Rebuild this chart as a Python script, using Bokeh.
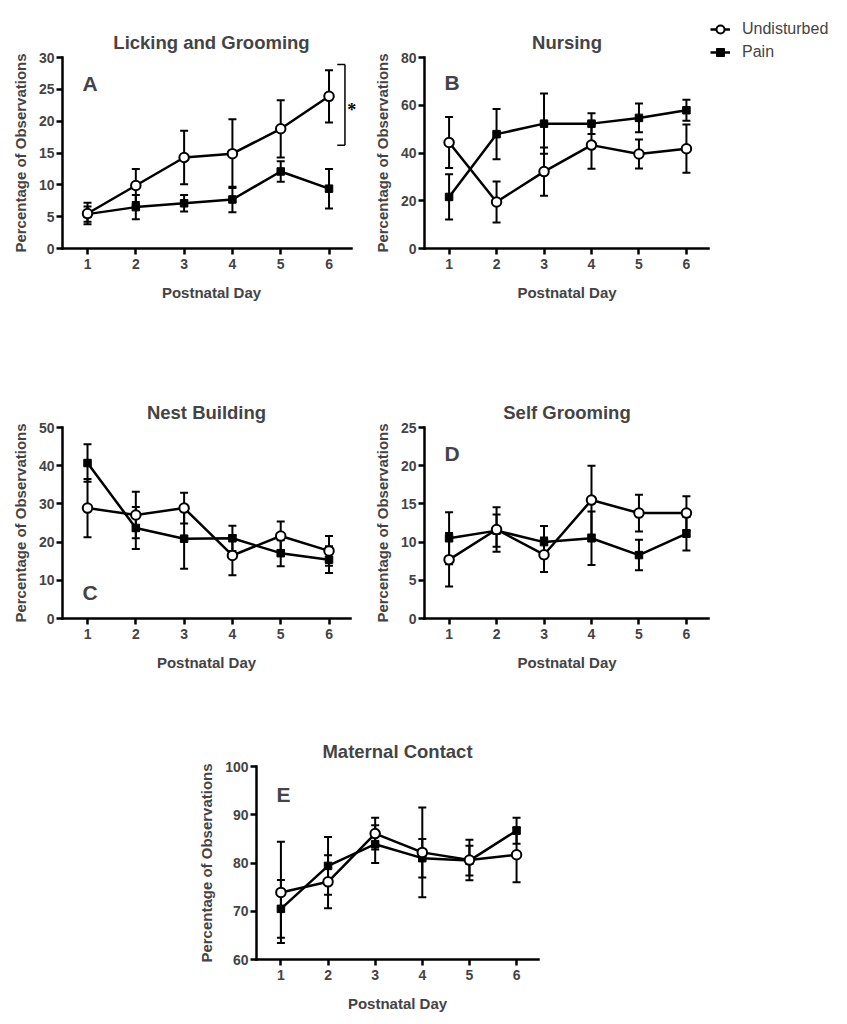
from bokeh.plotting import figure
from bokeh.layouts import column, row, Spacer
from bokeh.models import FixedTicker, Label, Legend, LegendItem, Range1d
from bokeh.embed import file_html
from bokeh.resources import INLINE

# ---------------- data ----------------
days = [1, 2, 3, 4, 5, 6]

lg_und = [5.5, 9.9, 14.3, 14.9, 18.8, 23.9]
lg_und_se = [1.7, 2.6, 4.2, 5.4, 4.5, 4.1]
lg_pain = [5.4, 6.5, 7.1, 7.7, 12.1, 9.4]
lg_pain_se = [1.2, 1.9, 1.3, 2.0, 1.6, 3.1]

nu_und = [44.4, 19.5, 32.2, 43.3, 39.6, 41.8]
nu_und_se = [10.7, 8.6, 10.1, 9.9, 6.1, 10.1]
nu_pain = [21.6, 47.9, 52.3, 52.3, 54.7, 57.9]
nu_pain_se = [9.5, 10.5, 12.6, 4.3, 6.0, 4.4]

nb_und = [28.9, 27.1, 28.9, 16.5, 21.6, 17.7]
nb_und_se = [7.6, 6.1, 4.0, 5.2, 3.8, 3.9]
nb_pain = [40.7, 23.7, 20.9, 21.0, 17.1, 15.4]
nb_pain_se = [4.9, 5.5, 7.9, 3.3, 3.4, 3.5]

sg_und = [7.7, 11.65, 8.35, 15.5, 13.8, 13.8]
sg_und_se = [3.5, 2.9, 2.25, 4.5, 2.4, 2.2]
sg_pain = [10.5, 11.5, 10.0, 10.5, 8.3, 11.1]
sg_pain_se = [3.4, 2.1, 2.1, 3.5, 2.0, 2.2]

mc_und = [73.9, 76.1, 86.1, 82.2, 80.6, 81.7]
mc_und_se = [10.5, 5.5, 3.3, 9.3, 4.2, 5.7]
mc_pain = [70.5, 79.4, 83.9, 81.0, 80.5, 86.7]
mc_pain_se = [6.0, 6.0, 3.9, 4.0, 3.1, 2.7]

series_names = ["Undisturbed", "Pain"]
x_label = "Postnatal Day"
y_label = "Percentage of Observations"

# significance annotation for panel A (data units)
sig_bracket_y = [16.2, 28.9]
sig_bracket_x = 6.33
sig_bracket_tick_x = 6.17
sig_star = (6.47, 21.7)

# ---------------- style ----------------
FONT = "Liberation Sans"
PX_PER_DAY = 48.3
X_START = 0.482
X_AXIS_END = 6.46


def panel(title, und, und_se, pain, pain_se, y0, y1, yticks, letter, letter_y,
          bl, fw, br, bt, fh, bb, title_offset=0):
    x_end = X_START + fw / PX_PER_DAY
    p = figure(width=bl + fw + br, height=bt + fh + bb,
               x_range=Range1d(X_START, x_end), y_range=Range1d(y0, y1),
               toolbar_location=None, output_backend="svg",
               min_border_left=bl, min_border_right=br,
               min_border_top=bt, min_border_bottom=bb)
    p.grid.visible = False
    p.outline_line_color = None
    p.background_fill_color = "white"
    p.border_fill_color = "white"

    p.title.text = title
    p.title.align = "center"
    p.title.vertical_align = "top"
    p.title.text_font = FONT
    p.title.text_font_size = "18.5px"
    p.title.text_font_style = "bold"
    p.title.standoff = 6
    p.title.offset = title_offset

    for ax in (p.xaxis[0], p.yaxis[0]):
        ax.axis_line_width = 2.5
        ax.major_tick_line_width = 2.5
        ax.major_tick_out = 6
        ax.major_tick_in = 0
        ax.minor_tick_out = 0
        ax.minor_tick_in = 0
        ax.major_label_text_font = FONT
        ax.major_label_text_font_style = "bold"
        ax.major_label_text_font_size = "14px"
        ax.axis_label_text_font = FONT
        ax.axis_label_text_font_style = "bold"
        ax.axis_label_text_font_size = "15px"
        ax.axis_line_cap = "square"

    p.xaxis.ticker = FixedTicker(ticks=days)
    p.xaxis.bounds = (X_START, X_AXIS_END)
    p.xaxis.major_label_standoff = 4
    p.xaxis.axis_label = x_label
    p.xaxis.axis_label_standoff = 12

    p.yaxis.ticker = FixedTicker(ticks=yticks)
    p.yaxis.major_label_standoff = 2
    p.yaxis.axis_label = y_label
    p.yaxis.axis_label_standoff = 7

    # error bars
    for m, s in ((und, und_se), (pain, pain_se)):
        lo = [a - b for a, b in zip(m, s)]
        hi = [a + b for a, b in zip(m, s)]
        p.segment(days, lo, days, hi, line_color="black", line_width=2)
        p.scatter(days, lo, marker="dash", size=8, line_color="black", line_width=2)
        p.scatter(days, hi, marker="dash", size=8, line_color="black", line_width=2)

    p.line(days, und, line_color="black", line_width=2.5)
    p.line(days, pain, line_color="black", line_width=2.5)
    p.scatter(days, pain, marker="square", size=7.5, fill_color="black",
              line_color="black", line_width=1)
    p.scatter(days, und, marker="circle", size=9.5, fill_color="white",
              line_color="black", line_width=2)

    p.add_layout(Label(x=20, y=letter_y, x_units="screen", y_units="screen",
                       text=letter, text_font=FONT, text_font_size="21px",
                       text_font_style="bold", text_baseline="middle"))
    return p


pA = panel("Licking and Grooming", lg_und, lg_und_se, lg_pain, lg_pain_se,
           0, 30, [0, 5, 10, 15, 20, 25, 30], "A", 165,
           54, 298, 10, 49, 191, 130, title_offset=-5)
# significance bracket
pA.segment([sig_bracket_x], [sig_bracket_y[0]], [sig_bracket_x], [sig_bracket_y[1]],
           line_color="black", line_width=1.5)
pA.segment([sig_bracket_tick_x, sig_bracket_tick_x], sig_bracket_y,
           [sig_bracket_x, sig_bracket_x], sig_bracket_y,
           line_color="black", line_width=1.5)
pA.text([sig_star[0]], [sig_star[1]], text=["*"], text_font=FONT,
        text_font_size="18px", text_font_style="bold", text_align="center",
        text_baseline="alphabetic")

pB = panel("Nursing", nu_und, nu_und_se, nu_pain, nu_pain_se,
           0, 80, [0, 20, 40, 60, 80], "B", 166,
           49, 290, 1, 49, 191, 130)

# legend figure (swatches only; dummy points lie outside its range)
lf = figure(width=129, height=370, x_range=(0, 1), y_range=(0, 1), title=None,
            toolbar_location=None, output_backend="svg",
            x_axis_location=None, y_axis_location=None,
            min_border_left=0, min_border_right=0, min_border_top=11,
            min_border_bottom=0)
lf.frame_align = False
lf.grid.visible = False
lf.outline_line_color = None
r1 = lf.line([-5, -4], [-5, -4], line_color="black", line_width=2.5)
r2 = lf.scatter([-5], [-5], marker="circle", size=9.5, fill_color="white",
                line_color="black", line_width=2)
r3 = lf.line([-5, -4], [-5, -4], line_color="black", line_width=2.5)
r4 = lf.scatter([-5], [-5], marker="square", size=7.5, fill_color="black",
                line_color="black", line_width=1)
legend = Legend(items=[LegendItem(label=series_names[0], renderers=[r1, r2]),
                       LegendItem(label=series_names[1], renderers=[r3, r4])],
                location="top_left", margin=0, padding=0, spacing=3,
                glyph_width=20, glyph_height=20, label_height=20,
                label_standoff=12, border_line_color=None,
                background_fill_alpha=0, label_text_font=FONT,
                label_text_font_size="16px", label_text_baseline="middle")
lf.add_layout(legend)

pC = panel("Nest Building", nb_und, nb_und_se, nb_pain, nb_pain_se,
           0, 50, [0, 10, 20, 30, 40, 50], "C", 26,
           54, 288, 20, 49, 191, 99)
pD = panel("Self Grooming", sg_und, sg_und_se, sg_pain, sg_pain_se,
           0, 25, [0, 5, 10, 15, 20, 25], "D", 165.5,
           49, 290, 1, 49, 191, 99)
pE = panel("Maternal Contact", mc_und, mc_und_se, mc_pain, mc_pain_se,
           60, 100, [60, 70, 80, 90, 100], "E", 165.5,
           54, 289, 10, 49, 193, 55)

body = column(row(pA, pB, lf), row(pC, pD), row(Spacer(width=187, height=297), pE))
layout = column(Spacer(width=8, height=8), row(Spacer(width=8, height=8), body))

open("out.html", "w").write(file_html(layout, INLINE))
